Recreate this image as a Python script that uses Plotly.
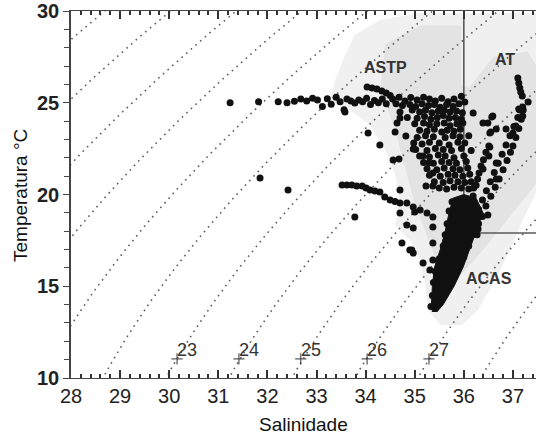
import numpy as np
import plotly.graph_objects as go

# ---------------- data ----------------
# water-mass boundaries
S_BOUND = 36.0
T_BOUND = 17.9

# isopycnal labels (sigma-t) and their marker positions
sig_labels = [23, 24, 25, 26, 27]
sig_lab_S = [30.16, 31.42, 32.68, 34.03, 35.29]
sig_lab_T = [11.04, 11.04, 11.04, 11.04, 11.04]
sig_levels = list(range(15, 31))

# water mass names
wm_names = ["ASTP", "AT", "ACAS"]
wm_S = [34.40, 36.84, 36.51]
wm_T = [26.92, 27.33, 15.42]

# light gray background cloud (outline)
cloud_S = [33.78, 34.29, 35.11, 37.60, 37.60, 37.25, 36.94, 36.64, 36.29, 35.96, 35.52, 35.27,
           35.21, 35.11, 34.90, 34.60, 34.70, 34.60, 34.40, 34.09, 33.68, 33.27, 33.38, 33.58]
cloud_T = [28.69, 29.51, 29.89, 29.89, 20.79, 18.88, 16.98, 15.34, 13.71, 12.89, 12.89, 13.71,
           15.07, 16.43, 17.52, 18.34, 19.70, 21.06, 22.42, 23.79, 24.60, 25.15, 26.24, 27.60]

# denser part of the gray cloud (outline)
cloud2_S = [34.40, 35.10, 35.95, 35.95, 36.10, 36.60, 37.30, 37.60, 37.60, 37.00, 36.40,
            35.90, 35.50, 35.00, 34.60, 34.30]
cloud2_T = [28.20, 29.20, 29.20, 26.00, 25.80, 27.50, 27.80, 26.50, 21.00, 19.00, 17.00,
            15.50, 16.00, 19.50, 23.50, 25.80]

# dense core of black points (outline)
trunk_S = [35.36, 35.34, 35.36, 35.40, 35.52, 35.62, 35.70, 35.78, 36.00, 36.25, 36.39, 36.25,
           36.12, 35.98, 35.80, 35.58, 35.45]
trunk_T = [13.60, 14.00, 15.00, 16.00, 17.00, 18.00, 19.00, 19.80, 20.00, 19.80, 19.00, 18.00,
           17.00, 16.00, 15.00, 14.00, 13.60]

# black stations
arm_S = [31.24, 31.82, 32.22, 32.40, 32.55, 32.68, 32.80, 32.92, 33.02, 33.12, 33.22, 33.30,
         33.40, 33.48, 33.56, 33.62, 33.70, 33.78, 33.86, 33.94, 34.02, 34.10, 34.18, 34.26,
         34.34, 34.42, 33.58, 34.03, 34.13, 34.23, 34.33, 34.42, 34.50]
arm_T = [25.00, 25.05, 25.05, 25.00, 25.08, 25.20, 25.10, 25.25, 25.15, 24.80, 25.22, 24.92,
         25.30, 25.05, 24.62, 25.20, 25.10, 24.98, 25.15, 25.05, 25.25, 24.90, 25.12, 25.00,
         25.20, 24.95, 24.50, 25.86, 25.80, 25.75, 25.64, 25.53, 25.40]

low_S = [31.85, 32.42, 33.52, 33.62, 33.72, 33.82, 33.93, 34.01, 34.09, 34.19, 34.29, 34.39,
         34.50, 34.60, 34.70, 34.84, 34.97, 35.11, 35.25, 35.37, 34.70, 34.70, 34.97, 33.78,
         34.74, 34.90, 34.97, 35.17, 35.31, 35.37, 34.84, 34.94, 35.00, 35.37, 35.37, 34.05,
         34.29, 34.56, 34.60, 34.64, 34.70]
low_T = [20.90, 20.25, 20.52, 20.52, 20.52, 20.46, 20.46, 20.35, 20.25, 20.19, 20.14, 19.86,
         19.70, 19.62, 19.54, 19.54, 19.32, 19.16, 18.99, 18.77, 20.25, 18.99, 18.17, 18.77,
         17.36, 16.98, 16.81, 16.27, 15.89, 16.43, 18.34, 16.98, 19.05, 17.36, 18.23, 23.35,
         22.70, 21.88, 23.40, 23.90, 24.17]

astp_S = [34.55, 34.68, 34.80, 34.92, 35.05, 35.18, 35.30, 35.42, 35.55, 35.68, 35.80, 35.95,
          34.62, 34.75, 34.90, 35.02, 35.15, 35.28, 35.40, 35.52, 35.65, 35.78, 35.90,
          34.70, 34.95, 35.10, 35.22, 35.35, 35.48, 35.60, 35.72, 35.85, 35.97,
          34.85, 35.05, 35.20, 35.33, 35.46, 35.58, 35.70, 35.83, 35.95,
          35.00, 35.18, 35.30, 35.45, 35.60, 35.72, 35.86, 35.98,
          35.10, 35.25, 35.40, 35.55, 35.66, 35.80, 35.93]
astp_T = [25.20, 25.30, 25.10, 25.28, 25.15, 25.30, 25.20, 25.10, 25.25, 25.05, 25.20, 25.35,
          24.95, 24.85, 24.90, 24.80, 24.95, 24.85, 24.90, 24.75, 24.90, 24.80, 24.95,
          24.50, 24.60, 24.50, 24.60, 24.45, 24.55, 24.60, 24.50, 24.55, 24.45,
          24.20, 24.15, 24.25, 24.10, 24.20, 24.30, 24.15, 24.20, 24.10,
          23.85, 23.90, 23.80, 23.85, 23.90, 23.75, 23.85, 23.90,
          23.50, 23.45, 23.55, 23.40, 23.50, 23.45, 23.55]

mid_S = [35.05, 35.22, 35.38, 35.62, 35.78, 35.92,
         34.98, 35.15, 35.30, 35.50, 35.70, 35.88, 36.02,
         35.02, 35.25, 35.42, 35.58, 35.75, 35.95,
         35.10, 35.30, 35.48, 35.62, 35.80, 36.00,
         35.18, 35.38, 35.55, 35.70, 35.85, 36.05,
         35.25, 35.45, 35.60, 35.78, 35.92, 36.08,
         35.30, 35.52, 35.68, 35.82, 35.98, 36.12,
         35.40, 35.58, 35.72, 35.88, 36.02, 36.15,
         35.50, 35.65, 35.80, 35.95, 36.10, 36.20,
         34.68, 34.82, 34.97, 35.17, 35.29, 35.37, 35.23, 35.37]
mid_T = [23.10, 23.20, 23.15, 23.10, 23.20, 23.15,
         22.80, 22.75, 22.85, 22.80, 22.70, 22.85, 22.80,
         22.45, 22.40, 22.50, 22.45, 22.40, 22.50,
         22.10, 22.05, 22.15, 22.10, 22.00, 22.10,
         21.75, 21.70, 21.80, 21.75, 21.70, 21.80,
         21.40, 21.35, 21.45, 21.40, 21.35, 21.45,
         21.05, 21.00, 21.10, 21.05, 21.00, 21.10,
         20.70, 20.65, 20.75, 20.70, 20.65, 20.70,
         20.35, 20.30, 20.40, 20.35, 20.30, 20.35,
         21.93, 23.19, 22.48, 22.10, 21.72, 21.17, 20.46, 20.46]

rb_S = [36.29, 36.38, 36.45, 36.55, 36.64, 36.72, 36.80, 36.88, 36.95, 37.00, 37.06, 37.12,
        37.17, 37.21,
        36.22, 36.30, 36.38, 36.46, 36.54, 36.62, 36.70, 36.78, 36.86, 36.94, 37.02, 37.10,
        36.19, 36.25, 36.31, 36.40, 36.51, 36.55, 36.59, 36.45, 36.35, 36.28,
        36.66, 36.86, 37.00, 37.06, 37.20, 37.12, 36.66, 36.51, 36.66, 36.39]
rb_T = [18.12, 18.80, 19.37, 19.90, 20.40, 20.84, 21.35, 21.85, 22.30, 22.64, 23.10, 23.60,
        24.10, 24.60,
        18.60, 19.20, 19.70, 20.20, 20.70, 21.20, 21.70, 22.20, 22.70, 23.20, 23.70, 24.20,
        19.92, 20.50, 21.17, 21.90, 22.64, 23.40, 24.28, 22.30, 21.55, 20.85,
        23.57, 23.57, 23.35, 23.73, 24.28, 24.66, 21.72, 22.10, 20.84, 21.39]

at_S = [37.10, 37.12, 37.14, 37.16, 37.19, 37.31, 36.02, 36.19, 36.57, 36.49, 37.14, 37.20,
        36.39, 36.53, 36.53, 36.10, 36.15]
at_T = [26.35, 26.08, 25.80, 25.59, 25.37, 25.04, 25.04, 24.44, 24.22, 23.90, 24.60, 24.77,
        23.90, 23.35, 22.59, 23.20, 22.40]

tr_S = [35.33, 35.36, 35.38, 35.42, 35.50, 35.58, 35.62, 35.66, 35.70, 35.76,
        35.52, 35.62, 35.75, 35.88, 36.00, 36.10, 36.18, 36.30,
        35.45, 35.55, 35.70, 35.85, 36.00, 35.90, 36.10, 36.00,
        36.49, 36.27]
tr_T = [13.90, 14.50, 15.20, 15.80, 16.50, 17.20, 17.80, 18.40, 19.10, 19.60,
        14.20, 14.80, 15.40, 16.00, 16.60, 17.20, 17.80, 18.40,
        14.60, 15.60, 16.60, 17.50, 18.30, 18.90, 19.30, 19.60,
        18.88, 17.80]


# ---------------- sigma-t (UNESCO EOS-80, p = 0) ----------------
def sigma_t(S, T):
    rho_w = (999.842594 + 6.793952e-2 * T - 9.095290e-3 * T**2 + 1.001685e-4 * T**3
             - 1.120083e-6 * T**4 + 6.536332e-9 * T**5)
    A = 8.24493e-1 - 4.0899e-3 * T + 7.6438e-5 * T**2 - 8.2467e-7 * T**3 + 5.3875e-9 * T**4
    B = -5.72466e-3 + 1.0227e-4 * T - 1.6546e-6 * T**2
    C = 4.8314e-4
    return rho_w + A * S + B * S**1.5 + C * S**2 - 1000.0


# isopycnal curves: for each T solve sigma_t(S, T) = level for S
Sg = np.linspace(20.0, 42.0, 2201)
Tline = np.linspace(9.0, 31.0, 120)

pts_S = arm_S + low_S + astp_S + mid_S + rb_S + at_S + tr_S
pts_T = arm_T + low_T + astp_T + mid_T + rb_T + at_T + tr_T

fig = go.Figure()

fig.add_trace(go.Scatter(
    x=cloud_S, y=cloud_T, mode="lines", fill="toself",
    fillcolor="rgba(0,0,0,0.06)", line=dict(width=0), hoverinfo="skip"))

fig.add_trace(go.Scatter(
    x=cloud2_S, y=cloud2_T, mode="lines", fill="toself",
    fillcolor="rgba(0,0,0,0.05)", line=dict(width=0), hoverinfo="skip"))

for lev in sig_levels:
    s_line = [float(np.interp(lev, sigma_t(Sg, t), Sg)) for t in Tline]
    fig.add_trace(go.Scatter(
        x=s_line, y=Tline, mode="lines",
        line=dict(color="#5e5e5e", width=1.6, dash="1.6px,4.6px"), hoverinfo="skip"))

fig.add_trace(go.Scatter(
    x=[S_BOUND, S_BOUND, 38.0], y=[30.0, T_BOUND, T_BOUND], mode="lines",
    line=dict(color="#5a5a5a", width=1.6), hoverinfo="skip"))

fig.add_trace(go.Scatter(
    x=trunk_S, y=trunk_T, mode="lines", fill="toself",
    fillcolor="#111111", line=dict(width=1, color="#111111"), hoverinfo="skip"))

fig.add_trace(go.Scatter(
    x=pts_S, y=pts_T, mode="markers",
    marker=dict(color="#111111", size=7, line=dict(width=0)), hoverinfo="skip"))

fig.add_trace(go.Scatter(
    x=sig_lab_S, y=sig_lab_T, mode="markers",
    marker=dict(symbol="cross-thin", size=8, line=dict(width=1, color="#333")),
    hoverinfo="skip"))

annotations = []
for lab, s, t in zip(sig_labels, sig_lab_S, sig_lab_T):
    annotations.append(dict(x=s, y=t, xref="x", yref="y", text=str(lab), showarrow=False,
                            xanchor="left", yanchor="bottom", xshift=-2, yshift=-3,
                            font=dict(size=18, color="#333")))
for name, s, t in zip(wm_names, wm_S, wm_T):
    annotations.append(dict(x=s, y=t, xref="x", yref="y", text="<b>%s</b>" % name,
                            showarrow=False, font=dict(size=16, color="#333")))
annotations.append(dict(x=0.5, y=-0.128, xref="paper", yref="paper", text="Salinidade",
                        showarrow=False, yanchor="middle", font=dict(size=19, color="#111")))
annotations.append(dict(x=-0.1097, y=0.4986, xref="paper", yref="paper",
                        text="Temperatura °C", textangle=-90, showarrow=False,
                        xanchor="center", yanchor="middle", font=dict(size=19, color="#111")))

fig.update_layout(
    width=536, height=439,
    margin=dict(l=71, r=0, t=11, b=61),
    paper_bgcolor="white", plot_bgcolor="white",
    showlegend=False,
    font=dict(family="Liberation Sans, Arial, sans-serif", color="#222"),
    annotations=annotations,
    xaxis=dict(range=[28, 37.47], tick0=28, dtick=1, ticks="inside", ticklen=8,
               tickwidth=2, tickcolor="#333", showline=True, linecolor="#444",
               mirror="ticks", showgrid=False, zeroline=False,
               minor=dict(dtick=0.2, ticks="inside", ticklen=4, tickcolor="#333"),
               tickfont=dict(size=20, color="#222")),
    yaxis=dict(range=[10, 30], tick0=10, dtick=5, ticks="outside", ticklen=6,
               tickwidth=1.3, tickcolor="#444", showline=True, linecolor="#444",
               linewidth=1.6, showgrid=False, zeroline=False,
               minor=dict(dtick=1, ticks="outside", ticklen=5, tickcolor="#444",
                          showgrid=False),
               tickfont=dict(size=20, color="#222", weight="bold")),
)

fig.write_html("out.html")
